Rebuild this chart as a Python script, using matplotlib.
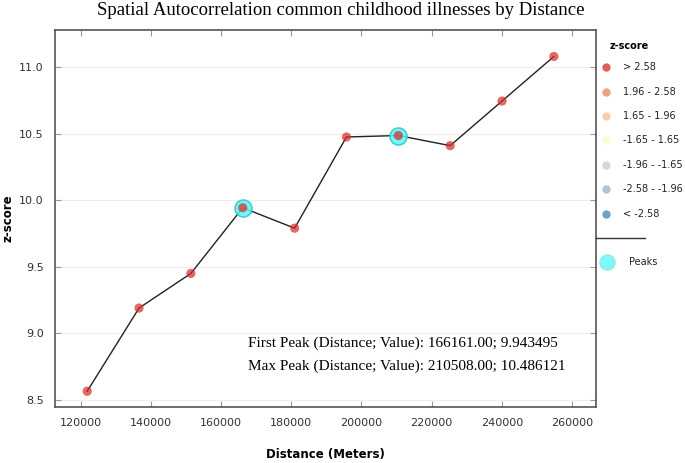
import matplotlib.pyplot as plt
from matplotlib.lines import Line2D

# data
distance = [121814, 136596, 151379, 166161, 180943, 195726, 210508, 225290, 240073, 254855]
zscore = [8.565, 9.19, 9.45, 9.943495, 9.79, 10.475, 10.486121, 10.41, 10.745, 11.08]
peak_dist = [166161, 210508]
peak_z = [9.943495, 10.486121]

legend_labels = ['> 2.58', '1.96 - 2.58', '1.65 - 1.96', '-1.65 - 1.65',
                 '-1.96 - -1.65', '-2.58 - -1.96', '< -2.58']
legend_colors = ['#d7191c', '#e8785a', '#f6b98a', '#fcf8c0', '#c3c8c4', '#8faac8', '#2c7bb6']

title = 'Spatial Autocorrelation common childhood illnesses by Distance'
notes = ['First Peak (Distance; Value): 166161.00; 9.943495',
         'Max Peak (Distance; Value): 210508.00; 10.486121']

fig = plt.figure(figsize=(6.85, 4.63), dpi=100)
ax = fig.add_axes([0.080, 0.121, 0.790, 0.814])

ax.plot(distance, zscore, color='#222222', lw=1.0, zorder=2)
ax.scatter(peak_dist, peak_z, s=150, color='#5ff5f5', edgecolor='#2cc8d0', lw=1.2, alpha=0.85, zorder=3)
ax.scatter(distance, zscore, s=44, color='#d62a2a', alpha=0.7, edgecolor='none', zorder=4)

ax.set_xlim(112586, 266843)
ax.set_ylim(8.447, 11.278)
ax.set_xticks(range(120000, 260001, 20000))
ax.set_yticks([8.5, 9.0, 9.5, 10.0, 10.5, 11.0])
ax.grid(axis='y', color='#eeeeee', lw=0.8)
ax.set_axisbelow(True)
ax.tick_params(direction='in', top=True, right=True, labelsize=8, colors='#333333',
               length=4, color='#999999', pad=8)
for s in ax.spines.values():
    s.set_color('#555555')
    s.set_linewidth(1.2)

ax.set_xlabel('Distance (Meters)', fontsize=8.5, fontweight='bold', va='center')
ax.xaxis.set_label_coords(0.5, -0.127)
ax.set_ylabel('z-score', fontsize=8.5, fontweight='bold', va='center')
ax.yaxis.set_label_coords(-0.087, 0.5)
fig.text(0.497, 0.978, title, ha='center', va='center', fontsize=13.5, family='Liberation Serif')

for i, t in enumerate(notes):
    ax.text(0.357, 0.170 - i * 0.061, t, transform=ax.transAxes, fontsize=11,
            family='Liberation Serif', va='center')

# legend drawn by hand outside the axes
fig.text(0.890, 0.901, 'z-score', fontsize=7, fontweight='bold', va='center')
for i, (lab, c) in enumerate(zip(legend_labels, legend_colors)):
    y = 0.855 - i * 0.0527
    fig.add_artist(Line2D([0.885], [y], marker='o', ms=6, color=c, alpha=0.7,
                          markeredgecolor='none', transform=fig.transFigure))
    fig.text(0.909, y, lab, fontsize=7, va='center', color='#222222')
fig.add_artist(Line2D([0.870, 0.942], [0.486, 0.486], color='#333333', lw=1,
                      transform=fig.transFigure))
fig.add_artist(Line2D([0.886], [0.434], marker='o', ms=11, color='#7ff8f8',
                      markeredgecolor='#9ee8ee', transform=fig.transFigure))
fig.text(0.918, 0.434, 'Peaks', fontsize=7, va='center', color='#222222')

fig.savefig('out.png', dpi=100)
